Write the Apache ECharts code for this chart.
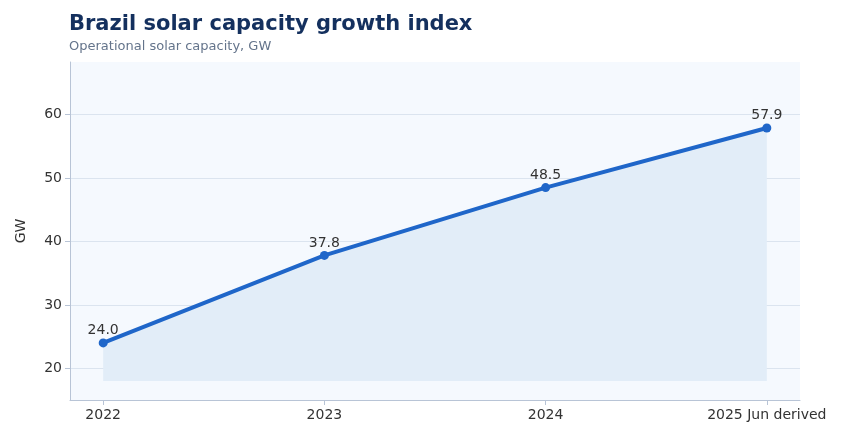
<!DOCTYPE html>
<html>
<head>
<meta charset="utf-8">
<script src="https://cdn.jsdelivr.net/npm/echarts@6/dist/echarts.min.js"></script>
<style>html,body{margin:0;padding:0;background:#fff}#chart{width:849px;height:442px}</style>
</head>
<body>
<div id="chart"></div>
<script>
var categories = ['2022', '2023', '2024', '2025 Jun derived'];
var capacity = [24.0, 37.8, 48.5, 57.9];
var yTicks = [20, 30, 40, 50, 60];

var chart = echarts.init(document.getElementById('chart'));
var points = capacity.map(function (v, i) { return [i, v]; });

chart.setOption({
  backgroundColor: '#fff',
  animation: false,
  textStyle: { fontFamily: 'DejaVu Sans' },
  title: {
    text: 'Brazil solar capacity growth index',
    subtext: 'Operational solar capacity, GW',
    left: 64, top: 9, itemGap: 5,
    textStyle: { fontSize: 21, fontWeight: 'bold', color: '#14305e' },
    subtextStyle: { fontSize: 13, color: '#64748b' }
  },
  grid: {
    left: 70, right: 49, top: 62, bottom: 42,
    show: true, backgroundColor: '#f5f9fe', borderWidth: 0
  },
  xAxis: {
    type: 'value', min: -0.15, max: 3.15,
    axisLine: { show: true, onZero: false, lineStyle: { color: '#b8c4d6' } },
    axisTick: { show: true, customValues: [0, 1, 2, 3], lineStyle: { color: '#b8c4d6' } },
    axisLabel: {
      customValues: [0, 1, 2, 3], fontSize: 14, color: '#333',
      formatter: function (v) { return categories[Math.round(v)]; }
    },
    splitLine: { show: false }
  },
  yAxis: {
    type: 'value', min: 15, max: 68.3,
    name: 'GW', nameLocation: 'middle', nameGap: 42, nameRotate: 90,
    nameTextStyle: { fontSize: 14, color: '#333' },
    axisLine: { show: true, onZero: false, lineStyle: { color: '#b8c4d6' } },
    axisTick: { show: true, customValues: yTicks, lineStyle: { color: '#b8c4d6' } },
    axisLabel: { customValues: yTicks, fontSize: 14, color: '#333' },
    splitLine: { show: false }
  },
  series: [{
    type: 'line',
    data: points,
    symbol: 'circle', symbolSize: 9,
    lineStyle: { width: 4, color: '#1f66c9' },
    itemStyle: { color: '#1f66c9' },
    areaStyle: { color: '#e2edf8', opacity: 1, origin: 18 },
    label: {
      show: true, position: 'top', distance: 1, fontSize: 14, color: '#333',
      formatter: function (p) { return p.value[1].toFixed(1); }
    },
    markLine: {
      silent: true, symbol: 'none', label: { show: false },
      lineStyle: { color: '#dbe4ef', width: 1, type: 'solid' },
      data: yTicks.map(function (t) { return { yAxis: t }; }),
      z: 0
    },
    z: 3
  }]
});
</script>
</body>
</html>
